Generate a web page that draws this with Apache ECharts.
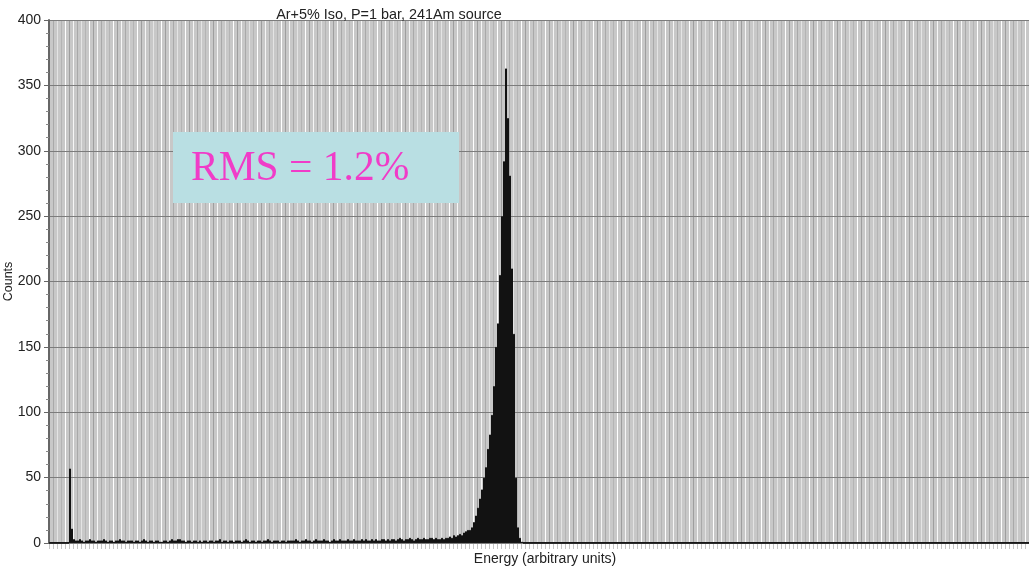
<!DOCTYPE html>
<html>
<head>
<meta charset="utf-8">
<script src="https://cdn.jsdelivr.net/npm/echarts@6/dist/echarts.min.js"></script>
<style>html,body{margin:0;padding:0;background:#fff}#c{width:1029px;height:568px}</style>
</head>
<body>
<div id="c"></div>
<script>
// ---- data ----
const titleText = 'Ar+5% Iso, P=1 bar, 241Am source';
const xName = 'Energy (arbitrary units)';
const yName = 'Counts';
const yTicks = [0, 50, 100, 150, 200, 250, 300, 350, 400];
const NBINS = 490;
// leading empty bins (0-9)
const leadZeros = [0,0,0,0,0,0,0,0,0,0];
// low-energy spike (bins 10-11)
const spike = [57, 11];
// flat background (bins 12-194)
const background = [
  3,2,2,3,2,1,2,2,3,2,2,1,2,2,2,3,2,1,2,2,1,2,2,3,2,2,1,2,2,
  2,1,2,2,1,2,3,2,1,2,2,1,2,2,1,1,2,2,1,2,3,2,2,3,3,2,2,1,2,2,1,2,2,1,2,1,2,2,1,2,
  2,1,2,2,3,1,2,2,1,2,2,1,2,2,2,1,2,3,2,1,2,2,1,2,2,1,2,2,3,2,1,2,2,2,1,2,2,1,2,2,
  2,2,3,2,1,2,2,3,2,2,1,2,3,2,2,2,3,2,2,1,2,3,2,2,3,2,2,2,3,2,2,3,2,2,2,3,2,3,2,2,
  3,2,3,2,2,3,3,2,3,2,3,3,2,3,4,3,2,3,3,4,3,2,3,4,3,3,4,3,3,4,4,3,4,3
];
// photo-peak (bins 195-236)
const peak = [
  3,4,3,4,4,5,4,6,5,6,7,6,8,9,10,10,12,16,21,27,34,41,50,58,72,83,98,120,150,168,
  205,250,292,363,325,281,210,160,50,12,4,1
];

const counts = leadZeros.concat(spike, background, peak);
while (counts.length < NBINS) counts.push(0);
const bins = counts.map((_, i) => String(i));

const FONT = 'Liberation Sans, Arial, sans-serif';
const chart = echarts.init(document.getElementById('c'), null, {renderer: 'canvas'});
chart.setOption({
  animation: false,
  backgroundColor: '#ffffff',
  title: {
    text: titleText,
    left: 384, top: 3, textAlign: 'center',
    textStyle: {fontFamily: FONT, fontSize: 14.4, fontWeight: 'normal', color: '#222'}
  },
  grid: {
    left: 49, right: 0, top: 20, bottom: 25,
    containLabel: false,
    outerBoundsMode: 'none',
    show: true, backgroundColor: '#c8c8c8', borderWidth: 0
  },
  xAxis: {
    type: 'category',
    data: bins,
    z: 0,
    name: xName,
    nameLocation: 'middle',
    nameGap: 9,
    nameMoveOverlap: false,
    nameTextStyle: {fontFamily: FONT, fontSize: 14, color: '#222', padding: [0, 0, 0, 12]},
    axisLine: {show: true, lineStyle: {color: '#2a2a2a', width: 2}},
    axisTick: {show: true, interval: 1, length: 6, lineStyle: {color: '#c4c4c4'}},
    axisLabel: {show: false},
    splitLine: {
      show: true, interval: 1,
      lineStyle: {color: ['#f6f6f6', '#a9a9a9', '#e4e4e4', '#b4b4b4', '#ffffff', '#9e9e9e'], width: 1}
    }
  },
  yAxis: {
    type: 'value',
    min: 0, max: 400, interval: 50,
    z: 1,
    name: yName,
    nameLocation: 'middle',
    nameGap: 34,
    nameMoveOverlap: false,
    nameRotate: 90,
    nameTextStyle: {fontFamily: FONT, fontSize: 12.5, color: '#222'},
    axisLine: {show: true, lineStyle: {color: '#666', width: 2}},
    axisTick: {show: true, length: 5, lineStyle: {color: '#666'}},
    minorTick: {show: true, splitNumber: 5, length: 3, lineStyle: {color: '#888'}},
    axisLabel: {
      margin: 8,
      fontFamily: FONT, fontSize: 14, color: '#222',
      formatter: v => (yTicks.indexOf(v) >= 0 ? String(v) : '')
    },
    splitLine: {show: true, lineStyle: {color: '#7c7c7c', width: 1}}
  },
  series: [{
    type: 'bar',
    data: counts,
    barWidth: '100%',
    barCategoryGap: '0%',
    z: 5,
    itemStyle: {color: '#121212', borderColor: '#121212', borderWidth: 1},
    silent: true
  }],
  graphic: [
    {
      type: 'rect', z: 100,
      shape: {x: 173, y: 132, width: 286, height: 71},
      style: {fill: '#b9dfe3'}
    },
    {
      type: 'text', z: 101,
      x: 191, y: 169,
      style: {
        text: 'RMS = 1.2%',
        fontFamily: 'Liberation Serif, Times New Roman, serif',
        fontSize: 41.5,
        fill: '#f03cc8',
        verticalAlign: 'middle'
      }
    }
  ]
});
</script>
</body>
</html>
